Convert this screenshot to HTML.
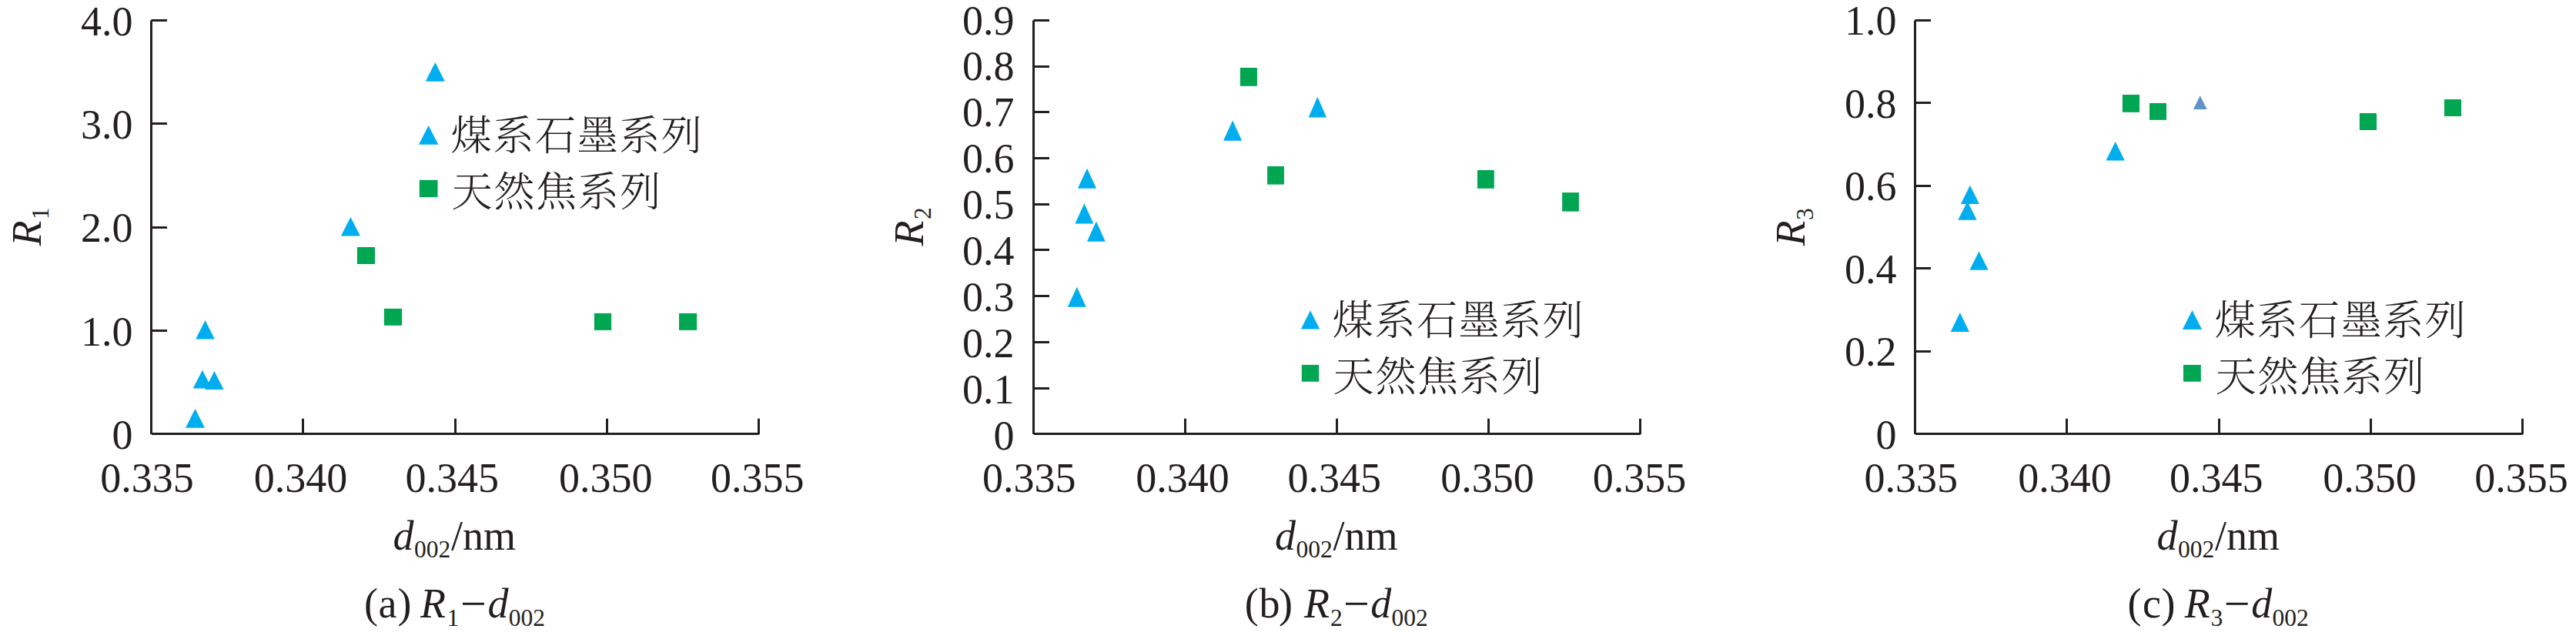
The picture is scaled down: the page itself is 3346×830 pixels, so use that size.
<!DOCTYPE html>
<html lang="zh"><head><meta charset="utf-8"><title>R–d002 scatter plots</title>
<style>html,body{margin:0;padding:0;background:#fff}body{width:3346px;height:830px;overflow:hidden}svg{display:block}svg text{white-space:pre}</style></head>
<body>
<svg width="3346" height="830" viewBox="0 0 3346 830" font-family='"Liberation Serif", serif' font-size="54" fill="#231f20">
<rect width="3346" height="830" fill="#fff"/>
<g id="chart-a">
<g stroke="#231f20" stroke-width="3" fill="none">
<path d="M196.5,26.5 V563.90"/>
<path d="M196.90,563.5 H985.70"/>
<path d="M196.5,429.5h20.5 M196.5,295.5h20.5 M196.5,160.5h20.5 M196.5,26.5h20.5 M393.5,563.5V543.7 M591.5,563.5V543.7 M788.5,563.5V543.7 M985.5,564.0V543.7"/>
</g>
<g text-anchor="end">
<text x="172.5" y="582.7">0</text>
<text x="172.5" y="448.5">1.0</text>
<text x="172.5" y="314.2">2.0</text>
<text x="172.5" y="180.0">3.0</text>
<text x="172.5" y="45.8">4.0</text>
</g>
<g text-anchor="middle">
<text x="190.9" y="639">0.335</text>
<text x="390.5" y="639">0.340</text>
<text x="587.3" y="639">0.345</text>
<text x="786.7" y="639">0.350</text>
<text x="983.7" y="639">0.355</text>
</g>
<polygon points="253.5,531.0 266.0,555.8 241.0,555.8" fill="#00aeef"/>
<polygon points="262.9,480.8 275.1,504.6 250.7,504.6" fill="#00aeef"/>
<polygon points="278.4,482.0 290.6,505.9 266.2,505.9" fill="#00aeef"/>
<polygon points="266.5,416.0 278.9,440.4 254.2,440.4" fill="#00aeef"/>
<polygon points="455.4,281.9 467.9,306.6 442.9,306.6" fill="#00aeef"/>
<polygon points="565.3,81.0 577.8,105.7 552.8,105.7" fill="#00aeef"/>
<rect x="463.9" y="321.0" width="23.1" height="22.0" fill="#00a651"/>
<rect x="498.9" y="400.9" width="23.2" height="21.9" fill="#00a651"/>
<rect x="771.9" y="406.9" width="22.2" height="22.0" fill="#00a651"/>
<rect x="882.0" y="406.9" width="23.1" height="22.0" fill="#00a651"/>
<polygon points="556.6,163.0 569.3,187.8 543.9,187.8" fill="#00aeef"/>
<rect x="544.8" y="233.8" width="23.7" height="22.3" fill="#00a651"/>
<g font-family='"Liberation Serif", "Noto Serif CJK SC", serif' font-size="53.3" font-weight="300" letter-spacing="1.3">
<text x="585.6" y="195.1">煤系石墨系列</text>
<text x="586.6" y="268.1">天然焦系列</text>
</g>
<g transform="translate(53.3,319.5) rotate(-90)"><text x="0" y="0" font-style="italic">R</text><text x="34.2" y="10" font-size="31.5">1</text></g>
<text x="510.5" y="714.1" font-style="italic">d</text>
<text x="538.0" y="724.1" font-size="31.5">002</text>
<text x="586.0" y="714.1">/nm</text>
<text x="472.9 491.4 516.6" y="801.7">(a)</text>
<text x="546.1" y="801.7" font-style="italic">R</text>
<text x="580.4" y="813.0" font-size="31.5">1</text>
<text x="598.0" y="803.7" font-size="60">−</text>
<text x="633.5" y="801.7" font-style="italic">d</text>
<text x="660.8" y="813.0" font-size="31.5">002</text>
</g>
<g id="chart-b">
<g stroke="#231f20" stroke-width="3" fill="none">
<path d="M1342.5,26.5 V563.90"/>
<path d="M1342.90,563.5 H2130.70"/>
<path d="M1342.5,504.5h20.5 M1342.5,444.5h20.5 M1342.5,384.5h20.5 M1342.5,324.5h20.5 M1342.5,265.5h20.5 M1342.5,205.5h20.5 M1342.5,145.5h20.5 M1342.5,86.5h20.5 M1342.5,26.5h20.5 M1539.5,563.5V543.7 M1736.5,563.5V543.7 M1933.5,563.5V543.7 M2130.5,564.0V543.7"/>
</g>
<g text-anchor="end">
<text x="1317.4" y="583.6">0</text>
<text x="1317.4" y="523.7">0.1</text>
<text x="1317.4" y="463.8">0.2</text>
<text x="1317.4" y="403.9">0.3</text>
<text x="1317.4" y="344.0">0.4</text>
<text x="1317.4" y="284.1">0.5</text>
<text x="1317.4" y="224.2">0.6</text>
<text x="1317.4" y="164.3">0.7</text>
<text x="1317.4" y="104.4">0.8</text>
<text x="1317.4" y="44.5">0.9</text>
</g>
<g text-anchor="middle">
<text x="1336.8" y="639">0.335</text>
<text x="1535.9" y="639">0.340</text>
<text x="1733.2" y="639">0.345</text>
<text x="1932.1" y="639">0.350</text>
<text x="2129.6" y="639">0.355</text>
</g>
<polygon points="1398.8,372.7 1410.8,398.7 1386.8,398.7" fill="#00aeef"/>
<polygon points="1408.4,264.3 1420.4,290.6 1396.4,290.6" fill="#00aeef"/>
<polygon points="1423.9,287.6 1435.8,313.8 1412.0,313.8" fill="#00aeef"/>
<polygon points="1412.0,218.7 1424.1,244.8 1399.9,244.8" fill="#00aeef"/>
<polygon points="1601.1,156.4 1613.1,182.7 1589.0,182.7" fill="#00aeef"/>
<polygon points="1711.3,125.8 1723.0,152.4 1699.6,152.4" fill="#00aeef"/>
<rect x="1610.9" y="88.0" width="22.0" height="23.8" fill="#00a651"/>
<rect x="1646.1" y="216.0" width="21.8" height="23.6" fill="#00a651"/>
<rect x="1919.0" y="221.0" width="21.8" height="23.8" fill="#00a651"/>
<rect x="2029.1" y="250.1" width="21.8" height="24.5" fill="#00a651"/>
<polygon points="1702.0,403.3 1714.2,427.6 1689.8,427.6" fill="#00aeef"/>
<rect x="1690.8" y="473.9" width="22.3" height="21.8" fill="#00a651"/>
<g font-family='"Liberation Serif", "Noto Serif CJK SC", serif' font-size="53.3" font-weight="300" letter-spacing="1.3">
<text x="1730.6" y="435.4">煤系石墨系列</text>
<text x="1731.6" y="508.2">天然焦系列</text>
</g>
<g transform="translate(1198.5,319.4) rotate(-90)"><text x="0" y="0" font-style="italic">R</text><text x="34.4" y="10" font-size="31.5">2</text></g>
<text x="1655.9" y="714.1" font-style="italic">d</text>
<text x="1683.4" y="724.1" font-size="31.5">002</text>
<text x="1731.4" y="714.1">/nm</text>
<text x="1616.7 1635.4 1661.0" y="801.7">(b)</text>
<text x="1693.9" y="801.7" font-style="italic">R</text>
<text x="1727.9" y="813.0" font-size="31.5">2</text>
<text x="1745.0" y="803.7" font-size="60">−</text>
<text x="1780.3" y="801.7" font-style="italic">d</text>
<text x="1807.6" y="813.0" font-size="31.5">002</text>
</g>
<g id="chart-c">
<g stroke="#231f20" stroke-width="3" fill="none">
<path d="M2487.5,26.5 V563.90"/>
<path d="M2487.90,563.5 H3276.70"/>
<path d="M2487.5,456.5h20.5 M2487.5,348.5h20.5 M2487.5,241.5h20.5 M2487.5,133.5h20.5 M2487.5,26.5h20.5 M2684.5,563.5V543.7 M2882.5,563.5V543.7 M3079.5,563.5V543.7 M3276.5,564.0V543.7"/>
</g>
<g text-anchor="end">
<text x="2463.6" y="582.8">0</text>
<text x="2463.6" y="475.3">0.2</text>
<text x="2463.6" y="367.8">0.4</text>
<text x="2463.6" y="260.3">0.6</text>
<text x="2463.6" y="152.8">0.8</text>
<text x="2463.6" y="45.3">1.0</text>
</g>
<g text-anchor="middle">
<text x="2482.3" y="639">0.335</text>
<text x="2681.9" y="639">0.340</text>
<text x="2878.7" y="639">0.345</text>
<text x="3078.1" y="639">0.350</text>
<text x="3275.1" y="639">0.355</text>
</g>
<polygon points="2545.8,406.1 2558.0,430.9 2533.7,430.9" fill="#00aeef"/>
<polygon points="2555.5,261.5 2567.7,285.8 2543.3,285.8" fill="#00aeef"/>
<polygon points="2558.9,240.8 2571.0,265.1 2546.8,265.1" fill="#00aeef"/>
<polygon points="2570.5,326.6 2582.6,350.7 2558.4,350.7" fill="#00aeef"/>
<polygon points="2747.7,184.1 2759.8,208.4 2735.5,208.4" fill="#00aeef"/>
<polygon points="2857.8,124.3 2866.7,142.0 2848.9,142.0" fill="#6092c8"/>
<rect x="2756.9" y="123.0" width="22.1" height="22.8" fill="#00a651"/>
<rect x="2792.0" y="134.0" width="22.0" height="21.8" fill="#00a651"/>
<rect x="3064.9" y="147.0" width="22.1" height="22.0" fill="#00a651"/>
<rect x="3174.9" y="129.0" width="22.1" height="22.0" fill="#00a651"/>
<polygon points="2847.5,403.1 2860.1,427.9 2834.9,427.9" fill="#00aeef"/>
<rect x="2836.0" y="473.9" width="22.8" height="21.8" fill="#00a651"/>
<g font-family='"Liberation Serif", "Noto Serif CJK SC", serif' font-size="53.3" font-weight="300" letter-spacing="1.3">
<text x="2876.6" y="435.1">煤系石墨系列</text>
<text x="2877.6" y="508.1">天然焦系列</text>
</g>
<g transform="translate(2343.5,319.4) rotate(-90)"><text x="0" y="0" font-style="italic">R</text><text x="33.4" y="11.3" font-size="31.5">3</text></g>
<text x="2801.5" y="714.1" font-style="italic">d</text>
<text x="2829.0" y="724.1" font-size="31.5">002</text>
<text x="2877.0" y="714.1">/nm</text>
<text x="2763.4 2782.9 2807.4" y="801.7">(c)</text>
<text x="2837.8" y="801.7" font-style="italic">R</text>
<text x="2871.4" y="813.0" font-size="31.5">3</text>
<text x="2888.8" y="803.7" font-size="60">−</text>
<text x="2924.2" y="801.7" font-style="italic">d</text>
<text x="2951.4" y="813.0" font-size="31.5">002</text>
</g>
</svg>
</body></html>
